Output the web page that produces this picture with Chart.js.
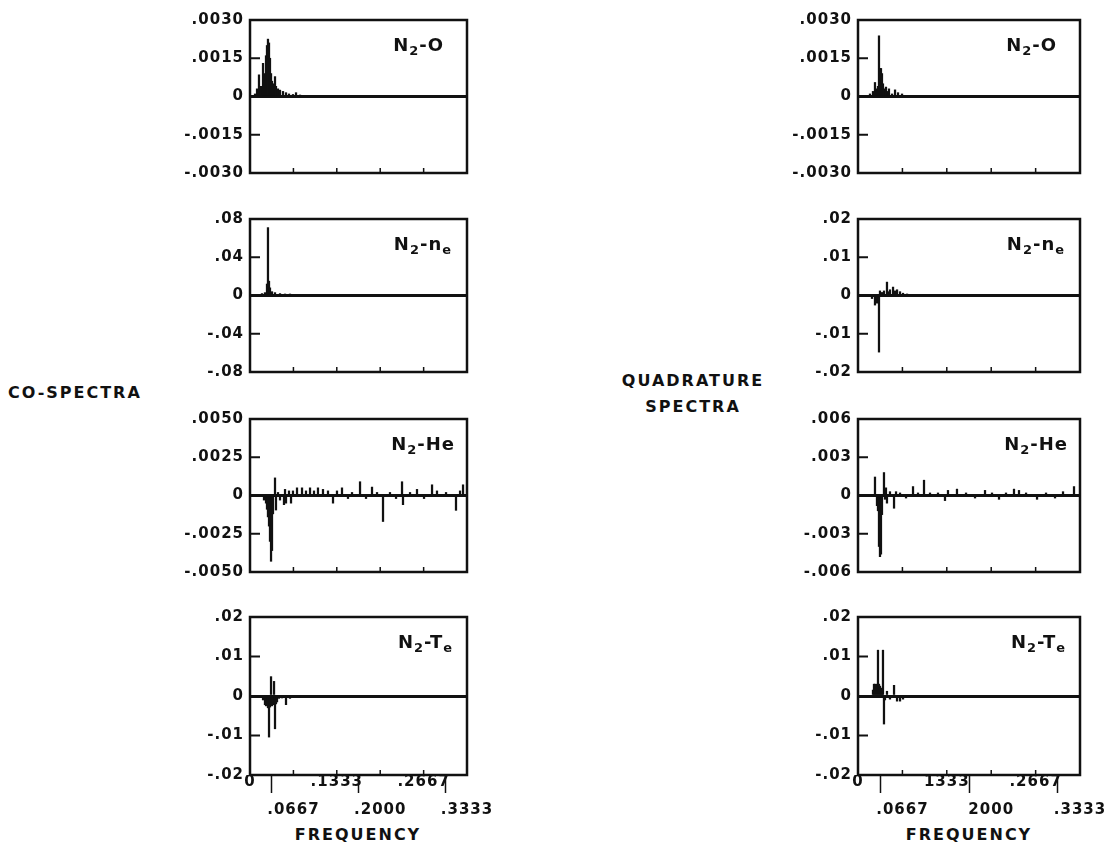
<!DOCTYPE html>
<html>
<head>
<meta charset="utf-8">
<script src="https://cdn.jsdelivr.net/npm/chart.js@4.4.1/dist/chart.umd.min.js"></script>
<style>
  body { margin: 0; background: #fff; }
  #page { position: relative; width: 1110px; height: 848px; overflow: hidden;
    font-family: "DejaVu Sans", sans-serif; font-weight: bold; color: #111; }
  #page canvas { position: absolute; }
  .big { position: absolute; font-size: 16px; letter-spacing: 2px; line-height: 26px; white-space: nowrap; }
  .name { position: absolute; font-size: 18px; letter-spacing: 1px; line-height: 24px; white-space: nowrap; }
  .name sub { font-size: 0.72em; vertical-align: -0.3em; line-height: 0; }
</style>
</head>
<body>
<div id="page">
  <div class="big" style="left:8px; top:380px;">CO-SPECTRA</div>
  <div class="big" style="left:593px; top:368px; width:200px; text-align:center;">QUADRATURE<br>SPECTRA</div>
  <div class="big" style="left:258px; top:822px; width:200px; text-align:center;">FREQUENCY</div>
  <div class="big" style="left:869px; top:822px; width:200px; text-align:center;">FREQUENCY</div>
</div>
<script>
// frequency axis
const xMax = 0.3333;
const xTicks = [0, 0.0667, 0.1333, 0.2, 0.2667, 0.3333];
const xLabelsCo = ['0', '.0667', '.1333', '.2000', '.2667', '.3333'];
const xLabelsQu = ['0', '.0667', '1333', '2000', '.2667', '.3333'];
const xLowRow = [false, true, false, true, false, true];

// y ticks
const yTicksO = [-0.003, -0.0015, 0, 0.0015, 0.003];
const yLabelsO = ['-.0030', '-.0015', '0', '.0015', '.0030'];
const yTicksCoNe = [-0.08, -0.04, 0, 0.04, 0.08];
const yLabelsCoNe = ['-.08', '-.04', '0', '.04', '.08'];
const yTicksCoHe = [-0.005, -0.0025, 0, 0.0025, 0.005];
const yLabelsCoHe = ['-.0050', '-.0025', '0', '.0025', '.0050'];
const yTicksTe = [-0.02, -0.01, 0, 0.01, 0.02];
const yLabelsTe = ['-.02', '-.01', '0', '.01', '.02'];
const yTicksQuNe = [-0.02, -0.01, 0, 0.01, 0.02];
const yLabelsQuNe = ['-.02', '-.01', '0', '.01', '.02'];
const yTicksQuHe = [-0.006, -0.003, 0, 0.003, 0.006];
const yLabelsQuHe = ['-.006', '-.003', '0', '.003', '.006'];

// co-spectra
const coOFreq = [0.0077, 0.0108, 0.0138, 0.0169, 0.0200, 0.0215, 0.0230, 0.0246, 0.0261, 0.0276, 0.0292, 0.0307, 0.0323,
  0.0338, 0.0353, 0.0369, 0.0384, 0.0399, 0.0430, 0.0461, 0.0507, 0.0553, 0.0599, 0.0660, 0.0707, 0.0768];
const coOVals = [0.0001, 0.0003, 0.00085, 0.0004, 0.0013, 0.0006, 0.0009, 0.0016, 0.0020, 0.00225, 0.0021, 0.0015, 0.0009,
  0.0006, 0.0005, 0.0004, 0.00078, 0.0004, 0.0003, 0.00025, 0.0002, 0.00015, 0.0001, 0.00008, 0.00015, 0.00005];

const coNeFreq = [0.0184, 0.0230, 0.0261, 0.0276, 0.0292, 0.0307, 0.0338, 0.0384, 0.0461, 0.0538, 0.0614];
const coNeVals = [0.002, 0.003, 0.012, 0.071, 0.015, 0.008, 0.004, 0.003, 0.002, 0.0015, 0.001];

const coHeFreq = [0.0215, 0.0246, 0.0261, 0.0276, 0.0292, 0.0307, 0.0323, 0.0338, 0.0353, 0.0384, 0.0399, 0.0430, 0.0461,
  0.0522, 0.0538, 0.0553, 0.0599, 0.0630, 0.0660, 0.0722, 0.0799, 0.0860, 0.0922, 0.0983, 0.1044, 0.1121, 0.1198,
  0.1275, 0.1336, 0.1413, 0.1505, 0.1567, 0.1690, 0.1782, 0.1874, 0.1951, 0.2043, 0.2150, 0.2243, 0.2335, 0.2350,
  0.2458, 0.2565, 0.2673, 0.2796, 0.2872, 0.3011, 0.3164, 0.3226, 0.3272];
const coHeVals = [-0.0003, -0.0005, -0.0009, -0.0014, -0.0020, -0.0030, -0.0043, -0.0036, -0.0012, 0.00115, -0.00095, 0.0002, -0.0003,
  -0.0006, 0.0004, -0.0005, 0.0003, -0.0005, 0.0003, 0.0005, 0.0005, 0.0003, 0.0005, 0.0003, 0.0005, 0.0004, 0.0003,
  -0.0005, 0.0003, 0.0005, -0.0002, 0.0002, 0.0009, -0.0002, 0.00055, 0.0002, -0.0017, 0.0002, -0.0002, 0.0009, -0.0006,
  0.0002, 0.0004, -0.0002, 0.0007, 0.0003, 0.0002, -0.00097, 0.0003, 0.0007];

const coTeFreq = [0.0200, 0.0230, 0.0246, 0.0261, 0.0276, 0.0292, 0.0307, 0.0323, 0.0338, 0.0353, 0.0369, 0.0384, 0.0399,
  0.0415, 0.0445, 0.0492, 0.0553, 0.0614, 0.0691, 0.0768];
const coTeVals = [-0.0010, -0.0022, -0.0025, -0.0022, -0.0030, -0.0104, -0.0028, 0.0049, -0.0025, -0.0022, 0.0037, -0.0083, -0.0020,
  -0.0015, -0.0006, -0.0005, -0.0022, -0.0006, -0.0004, -0.0003];

// quadrature spectra
const quOFreq = [0.0180, 0.0225, 0.0255, 0.0285, 0.0300, 0.0315, 0.0330, 0.0345, 0.0360, 0.0375, 0.0390, 0.0420, 0.0450,
  0.0465, 0.0511, 0.0556, 0.0601, 0.0661];
const quOVals = [0.0001, 0.0002, 0.00055, 0.0003, 0.0004, 0.00238, 0.0011, 0.0011, 0.0009, 0.0005, 0.0003, 0.00037, 0.0002,
  0.0003, 0.0001, 0.00026, 0.00015, 0.0001];

const quNeFreq = [0.0210, 0.0255, 0.0285, 0.0315, 0.0330, 0.0360, 0.0390, 0.0435, 0.0465, 0.0480, 0.0526, 0.0556, 0.0586,
  0.0631, 0.0676, 0.0736];
const quNeVals = [-0.0008, -0.0025, -0.0020, -0.0148, 0.0012, 0.0008, 0.0012, 0.0035, 0.0010, 0.0015, 0.0022, 0.0012, 0.0015,
  0.0010, 0.0006, 0.0004];

const quHeFreq = [0.0255, 0.0285, 0.0300, 0.0315, 0.0330, 0.0345, 0.0360, 0.0390, 0.0405, 0.0420, 0.0435, 0.0480, 0.0541,
  0.0571, 0.0631, 0.0721, 0.0826, 0.0901, 0.0991, 0.1081, 0.1201, 0.1306, 0.1351, 0.1486, 0.1622, 0.1757, 0.1907,
  0.2012, 0.2117, 0.2222, 0.2342, 0.2417, 0.2523, 0.2688, 0.2823, 0.2958, 0.3078, 0.3243];
const quHeVals = [0.00145, -0.0008, -0.0012, -0.0040, -0.0048, -0.0046, -0.0015, 0.0018, -0.0003, 0.0006, -0.0006, 0.0003, -0.0010,
  0.0003, 0.0002, -0.0002, 0.0007, 0.0002, 0.0012, 0.0002, 0.0002, -0.0004, 0.0004, 0.0005, 0.0002, -0.0002, 0.0004,
  0.0002, -0.0003, 0.0002, 0.0005, 0.0004, 0.0002, -0.0003, 0.0002, -0.0002, 0.0003, 0.0007];

const quTeFreq = [0.0225, 0.0240, 0.0255, 0.0270, 0.0285, 0.0300, 0.0315, 0.0330, 0.0345, 0.0360, 0.0375, 0.0390, 0.0405,
  0.0435, 0.0480, 0.0541, 0.0586, 0.0631, 0.0676, 0.0751];
const quTeVals = [0.0015, 0.0030, 0.0030, 0.0028, 0.0030, 0.0116, 0.0030, 0.0025, 0.0020, 0.0018, 0.0116, -0.0071, -0.0010,
  0.0012, -0.0008, 0.0027, -0.0013, -0.0013, -0.0008, -0.0004];

// layout
const INK = '#111';
const cols = [{ left: 250, w: 217 }, { left: 858, w: 222 }];
const rowTops = [15, 214, 414, 612];
const PLOT_H = 163, Y_W = 80, PAD_T = 10, PAD_B = 10, PAD_R = 30, X_H = 50;

const panels = [
  { col: 0, row: 0, freq: coOFreq, vals: coOVals, yTicks: yTicksO, yLabels: yLabelsO, name: 'N<sub>2</sub>-O', nameRight: 23 },
  { col: 0, row: 1, freq: coNeFreq, vals: coNeVals, yTicks: yTicksCoNe, yLabels: yLabelsCoNe, name: 'N<sub>2</sub>-n<sub>e</sub>', nameRight: 15 },
  { col: 0, row: 2, freq: coHeFreq, vals: coHeVals, yTicks: yTicksCoHe, yLabels: yLabelsCoHe, name: 'N<sub>2</sub>-He', nameRight: 12 },
  { col: 0, row: 3, freq: coTeFreq, vals: coTeVals, yTicks: yTicksTe, yLabels: yLabelsTe, name: 'N<sub>2</sub>-T<sub>e</sub>', nameRight: 14, xLabels: xLabelsCo },
  { col: 1, row: 0, freq: quOFreq, vals: quOVals, yTicks: yTicksO, yLabels: yLabelsO, name: 'N<sub>2</sub>-O', nameRight: 23 },
  { col: 1, row: 1, freq: quNeFreq, vals: quNeVals, yTicks: yTicksQuNe, yLabels: yLabelsQuNe, name: 'N<sub>2</sub>-n<sub>e</sub>', nameRight: 15 },
  { col: 1, row: 2, freq: quHeFreq, vals: quHeVals, yTicks: yTicksQuHe, yLabels: yLabelsQuHe, name: 'N<sub>2</sub>-He', nameRight: 12 },
  { col: 1, row: 3, freq: quTeFreq, vals: quTeVals, yTicks: yTicksTe, yLabels: yLabelsTe, name: 'N<sub>2</sub>-T<sub>e</sub>', nameRight: 14, xLabels: xLabelsQu },
];

// box, inward ticks on the left and bottom
const frame = {
  id: 'frame',
  beforeDraw(chart) {
    chart.ctx.letterSpacing = '1px';
  },
  afterDraw(chart) {
    const { ctx, chartArea: a } = chart;
    const xs = chart.scales.x, ys = chart.scales.y;
    ctx.save();
    ctx.strokeStyle = INK;
    ctx.lineWidth = 2.5;
    ctx.strokeRect(a.left, a.top, a.right - a.left, a.bottom - a.top);
    ctx.lineWidth = 2;
    ys.ticks.forEach(t => {
      if (t.value === 0 || t.value === ys.min || t.value === ys.max) return;
      const py = ys.getPixelForValue(t.value);
      ctx.beginPath(); ctx.moveTo(a.left, py); ctx.lineTo(a.left + 10, py); ctx.stroke();
    });
    ctx.lineWidth = 1.5;
    xs.ticks.forEach(t => {
      if (t.value === xs.min || t.value === xs.max) return;
      const px = xs.getPixelForValue(t.value);
      ctx.beginPath(); ctx.moveTo(px, a.bottom); ctx.lineTo(px, a.bottom - 5); ctx.stroke();
    });
    ctx.restore();
  }
};

const page = document.getElementById('page');

panels.forEach(p => {
  const c = cols[p.col];
  const top = rowTops[p.row];
  const last = p.row === 3;
  const canvas = document.createElement('canvas');
  canvas.width = Y_W + c.w + PAD_R;
  canvas.height = PAD_T + PLOT_H + (last ? X_H : PAD_B);
  canvas.style.left = (c.left - Y_W) + 'px';
  canvas.style.top = (top - PAD_T) + 'px';
  page.appendChild(canvas);

  const label = document.createElement('div');
  label.className = 'name';
  label.innerHTML = p.name;
  label.style.top = (top + 18) + 'px';
  label.style.right = (1110 - (c.left + c.w) + p.nameRight) + 'px';
  page.appendChild(label);

  new Chart(canvas, {
    type: 'bar',
    data: {
      datasets: [{
        data: p.freq.map((f, i) => ({ x: f, y: p.vals[i] })),
        backgroundColor: INK,
        barThickness: 1.6
      }]
    },
    options: {
      responsive: false,
      animation: false,
      devicePixelRatio: 1,
      layout: { padding: { top: PAD_T, right: PAD_R, bottom: last ? 0 : PAD_B, left: 0 } },
      plugins: { legend: { display: false }, tooltip: { enabled: false } },
      scales: {
        x: {
          type: 'linear',
          min: 0,
          max: xMax,
          offset: false,
          afterBuildTicks: s => { s.ticks = xTicks.map(v => ({ value: v })); },
          afterFit: s => { s.height = last ? X_H : 0; },
          border: { display: false },
          grid: {
            drawOnChartArea: false,
            drawTicks: last,
            tickLength: 18,
            tickWidth: 1.5,
            tickColor: ctx => xLowRow[ctx.index] ? INK : 'rgba(0,0,0,0)'
          },
          ticks: {
            display: last,
            autoSkip: false,
            maxRotation: 0,
            padding: -25,
            color: INK,
            font: { family: 'DejaVu Sans', weight: 'bold', size: 15, lineHeight: 28 / 15 },
            callback: (v, i) => p.xLabels ? (xLowRow[i] ? ['', p.xLabels[i]] : p.xLabels[i]) : ''
          }
        },
        y: {
          min: p.yTicks[0],
          max: p.yTicks[p.yTicks.length - 1],
          afterBuildTicks: s => { s.ticks = p.yTicks.map(v => ({ value: v })); },
          afterFit: s => { s.width = Y_W; },
          border: { display: false },
          grid: {
            drawTicks: false,
            lineWidth: 3,
            color: ctx => ctx.tick && ctx.tick.value === 0 ? INK : 'rgba(0,0,0,0)'
          },
          ticks: {
            padding: 6,
            color: INK,
            font: { family: 'DejaVu Sans', weight: 'bold', size: 15 },
            callback: (v, i) => p.yLabels[i]
          }
        }
      }
    },
    plugins: [frame]
  });
});
</script>
</body>
</html>
